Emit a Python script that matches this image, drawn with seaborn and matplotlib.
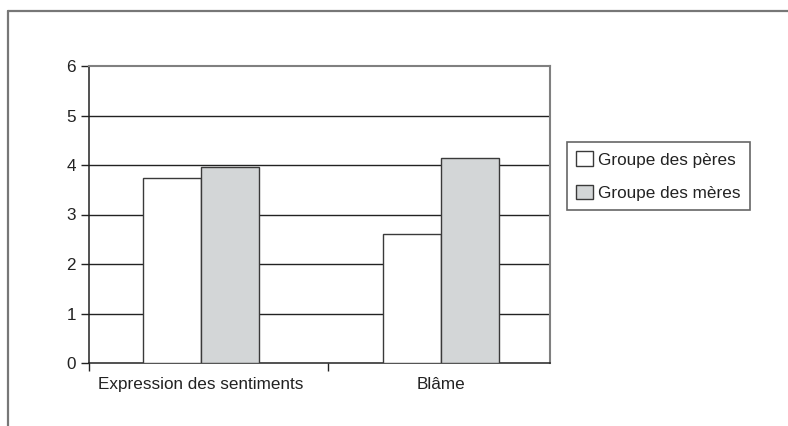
import matplotlib
matplotlib.use("Agg")
import matplotlib.pyplot as plt
from matplotlib.lines import Line2D
import seaborn as sns
import pandas as pd

categories = ["Expression des sentiments", "Blâme"]
groups = ["Groupe des pères", "Groupe des mères"]
peres = [3.73, 2.60]
meres = [3.95, 4.15]
yticks = [0, 1, 2, 3, 4, 5, 6]

df = pd.DataFrame({
    "categorie": categories * 2,
    "groupe": [groups[0]] * len(categories) + [groups[1]] * len(categories),
    "score": peres + meres,
})

sns.set_style("white")
plt.rcParams["font.family"] = ["Liberation Sans", "DejaVu Sans"]
plt.rcParams["font.size"] = 12.3

fig = plt.figure(figsize=(7.88, 4.26), dpi=100)
ax = fig.add_axes([88.5 / 788, 1 - 363 / 426, (550 - 88.5) / 788, (363 - 66) / 426])

sns.barplot(data=df, x="categorie", y="score", hue="groupe", order=categories,
            hue_order=groups, palette=["white", "#d3d6d7"], width=0.483,
            edgecolor="#3a3a3a", linewidth=1.0, saturation=1, ax=ax, zorder=3)

ax.set_ylim(0, 6)
ax.set_xlim(-0.469, 1.454)
ax.set_yticks(yticks)
ax.set_yticklabels([str(v) for v in yticks], color="#222")
ax.set_xticks([-0.469, 0.529], minor=True)
ax.set_xticks([0, 1])
ax.set_xticklabels(categories, color="#222")
ax.tick_params(axis="x", which="major", length=0, pad=10)
ax.tick_params(axis="x", which="minor", bottom=True, length=6, width=1, color="#222",
               direction="out")
ax.tick_params(axis="y", length=6, width=1, color="#222", direction="out", pad=3, left=True)
ax.set_xlabel("")
ax.set_ylabel("")

for v in yticks[1:-1]:
    ax.axhline(v, color="#222", linewidth=1.0, zorder=1)

for side in ("left", "bottom"):
    ax.spines[side].set_color("#222")
    ax.spines[side].set_linewidth(1.1)
for side in ("top", "right"):
    ax.spines[side].set_visible(True)
    ax.spines[side].set_color("#808080")
    ax.spines[side].set_linewidth(1.5)

leg = ax.legend(loc="upper left", bbox_to_anchor=(567 / 788, 1 - 142 / 426),
                bbox_transform=fig.transFigure, frameon=True, fancybox=False,
                shadow=False, framealpha=1, edgecolor="#666", handlelength=0.95,
                handleheight=0.95, handletextpad=0.3, labelspacing=1.0,
                borderpad=0.55, borderaxespad=0, fontsize=12.3)
leg.get_frame().set_linewidth(1.2)
for t in leg.get_texts():
    t.set_color("#222")

# outer frame lines of the figure
fig.add_artist(Line2D([7.5 / 788, 1], [1 - 11 / 426, 1 - 11 / 426], transform=fig.transFigure,
                      color="#777", linewidth=1.6))
fig.add_artist(Line2D([7.5 / 788, 7.5 / 788], [0, 1 - 11 / 426], transform=fig.transFigure,
                      color="#777", linewidth=1.6))

fig.savefig("out.png", dpi=100)
